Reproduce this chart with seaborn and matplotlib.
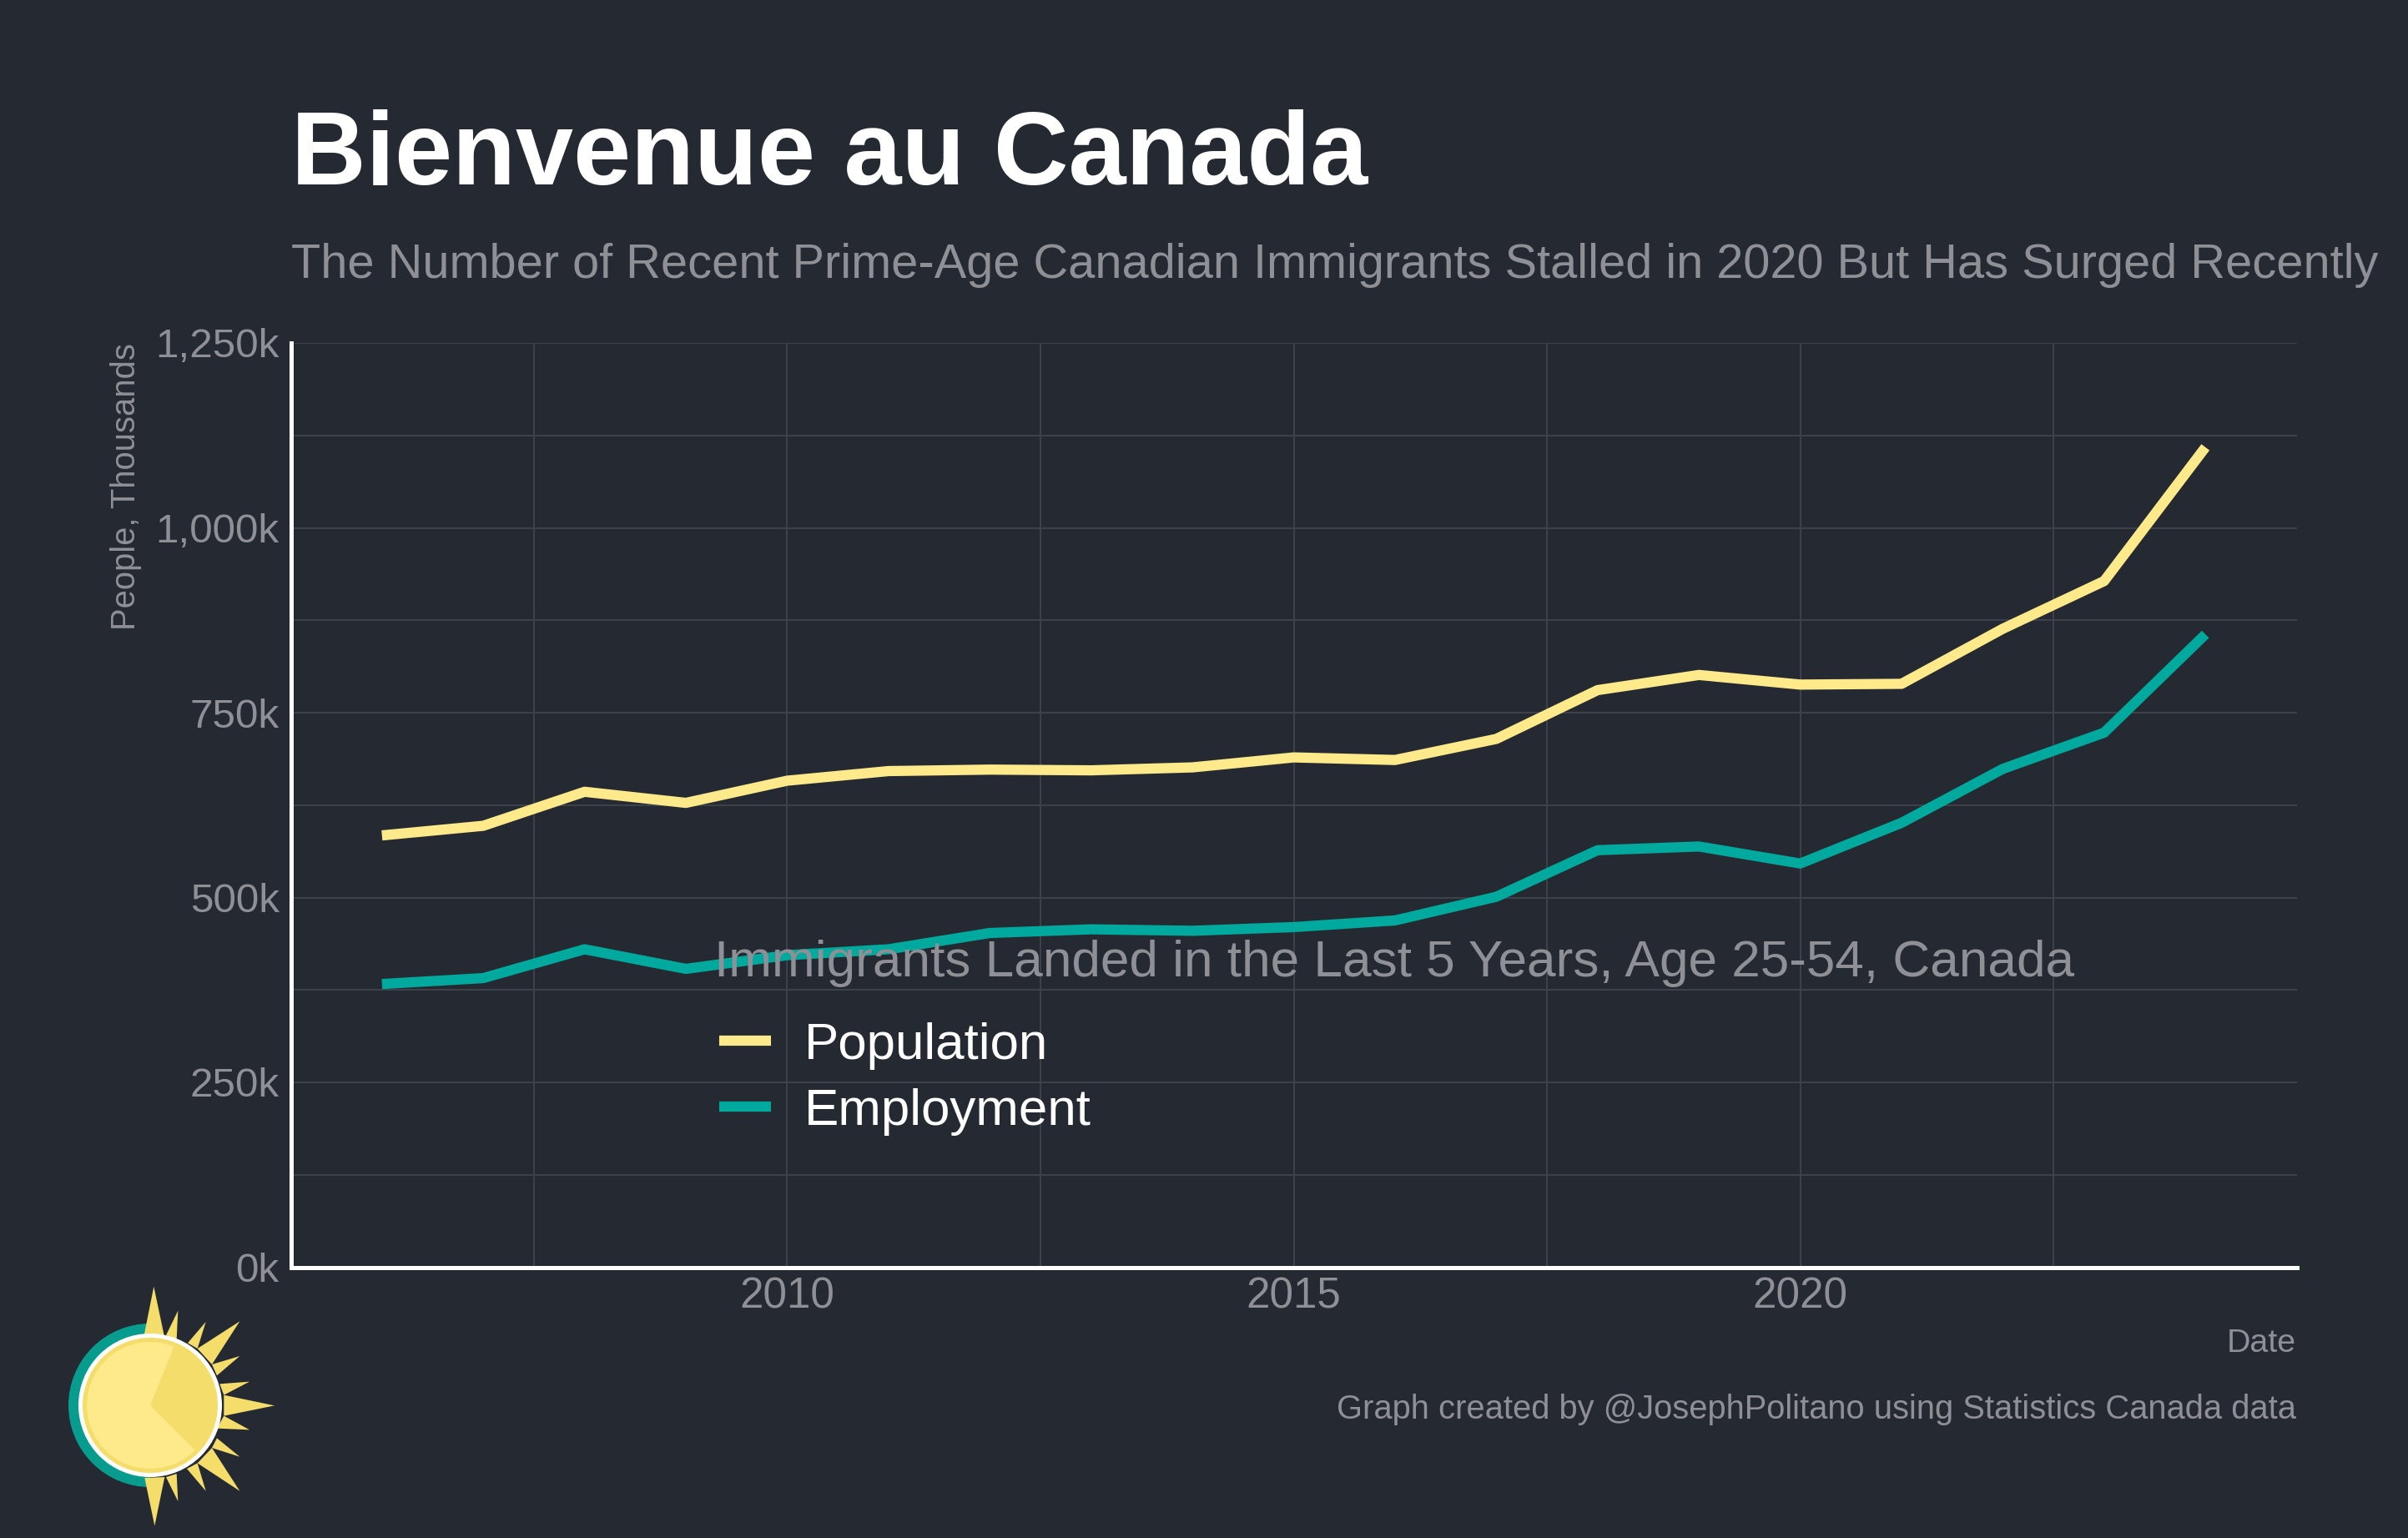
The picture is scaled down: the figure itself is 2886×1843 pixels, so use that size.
import matplotlib
matplotlib.use("Agg")
import matplotlib.pyplot as plt
from matplotlib.patches import Circle, Polygon, Wedge
from matplotlib.ticker import MultipleLocator, FuncFormatter
import pandas as pd
import seaborn as sns

years = list(range(2006, 2025))
population = [584, 597, 643, 628, 658, 671, 673, 672, 676, 689.5, 686, 714.5, 780.5, 801, 788, 789, 863.5, 928, 1109]
employment = [383, 391, 430, 403.5, 422, 430, 452, 457, 455, 460, 469, 501, 564, 569, 546, 601, 674, 723, 856]
series_names = ["Population", "Employment"]
y_ticks = [0, 250, 500, 750, 1000, 1250]
x_ticks = [2010, 2015, 2020]

BG = "#252A32"
GREY = "#8E9096"
GRID = "#3E424A"
YELLOW = "#FEE98B"
TEAL = "#00A99D"
W, H = 2886, 1843
DPI = 200
FONT = "Liberation Sans"

sns.set_theme(style="dark", rc={
    "figure.facecolor": BG, "axes.facecolor": BG, "savefig.facecolor": BG,
    "font.family": FONT, "lines.solid_capstyle": "butt",
})

fig = plt.figure(figsize=(W / DPI, H / DPI), dpi=DPI)
L, R, T, B = 348.5, 2752.5, 411, 1518.5
ax = fig.add_axes([L / W, 1 - B / H, (R - L) / W, (B - T) / H])

df = pd.DataFrame({"Date": years, series_names[0]: population, series_names[1]: employment})
long = df.melt("Date", var_name="Series", value_name="People")
sns.lineplot(data=long, x="Date", y="People", hue="Series", hue_order=series_names,
             palette=[YELLOW, TEAL], linewidth=4.4, ax=ax, zorder=3, legend=False)

ax.set_xlim(2005.1, 2024.9)
ax.set_ylim(0, 1250)
ax.set_xticks(x_ticks)
ax.xaxis.set_minor_locator(MultipleLocator(2.5))
ax.set_yticks(y_ticks)
ax.yaxis.set_minor_locator(MultipleLocator(125))
ax.yaxis.set_major_formatter(FuncFormatter(lambda v, _: f"{int(v):,}k"))
ax.grid(True, which="both", axis="both", color=GRID, linewidth=0.7)
ax.set_axisbelow(True)
ax.tick_params(axis="both", which="both", length=0, labelcolor=GREY)
ax.tick_params(axis="x", pad=4, labelsize=18.4)
ax.tick_params(axis="y", pad=5, labelsize=17.8)
for s in ["top", "right"]:
    ax.spines[s].set_visible(False)
for s in ["left", "bottom"]:
    ax.spines[s].set_color("white")
    ax.spines[s].set_linewidth(1.8)

ax.set_xlabel("")
ax.set_ylabel("")
fig.text(2752 / W, 1 - 1610 / H, "Date", color=GREY, fontsize=14.2, ha="right", va="center")
fig.text(151 / W, 1 - 411 / H, "People, Thousands", color=GREY, fontsize=14.4, rotation=90, ha="center", va="top")
fig.text(349 / W, 1 - 189 / H, "Bienvenue au Canada", color="white", fontsize=44.7, fontweight="bold", ha="left", va="center")
fig.text(349 / W, 1 - 318 / H, "The Number of Recent Prime-Age Canadian Immigrants Stalled in 2020 But Has Surged Recently",
         color=GREY, fontsize=20.8, ha="left", va="center")
fig.text(2752 / W, 1 - 1689 / H, "Graph created by @JosephPolitano using Statistics Canada data",
         color=GREY, fontsize=14.35, ha="right", va="center")

handles = [plt.Line2D([], [], color=c, linewidth=4.4) for c in (YELLOW, TEAL)]
leg = ax.legend(handles, series_names, title="Immigrants Landed in the Last 5 Years, Age 25-54, Canada",
                loc="upper left", bbox_to_anchor=((862 - L) / (R - L), (B - 1126) / (B - T)),
                frameon=False, alignment="left", fontsize=22.3, title_fontsize=22.35,
                handlelength=1.0, handletextpad=0.65, labelspacing=0.355, borderpad=0, borderaxespad=0)
leg.get_title().set_color(GREY)
leg.get_title().set_x(-5.5)
leg._legend_box.sep = 15
leg.set_zorder(5)
for t in leg.get_texts():
    t.set_color("white")

# Logo, in figure pixel coordinates
cx, cy = 180, 1684
logo = fig.add_axes([0, 0, 1, 1], facecolor="none")
logo.set_xlim(0, W)
logo.set_ylim(H, 0)
logo.axis("off")
ray_shapes = [
    ((553, 185), (518, 360), (590, 360)), ((987, 613), (805, 575), (805, 650)),
    ((862, 310), (710, 408), (762, 465)), ((862, 920), (762, 765), (710, 820)),
    ((556, 1045), (520, 873), (592, 870)), ((640, 272), (597, 360), (635, 375)),
    ((740, 312), (675, 388), (710, 408)), ((862, 435), (762, 465), (780, 505)),
    ((897, 527), (790, 535), (805, 575)), ((897, 700), (805, 650), (780, 695)),
    ((862, 797), (780, 730), (762, 765)), ((740, 920), (710, 820), (672, 840)),
    ((640, 957), (635, 858), (597, 870)),
]
logo.add_patch(Wedge((cx, cy), 98, 90, 270, color="#089C8E", lw=0))
for tri in ray_shapes:
    logo.add_patch(Polygon([(x / 3, 1480 + y / 3) for x, y in tri], closed=True, color="#F4DD6A", lw=0))
logo.add_patch(Circle((cx, cy), 86, color="white", lw=0))
logo.add_patch(Circle((cx, cy), 81, color="#F4DD6A", lw=0))
# y is inverted, so wedge angles run clockwise on screen
logo.add_patch(Wedge((cx, cy), 76, 45, 292, color=YELLOW, lw=0))

fig.savefig("out.png", dpi=DPI)
